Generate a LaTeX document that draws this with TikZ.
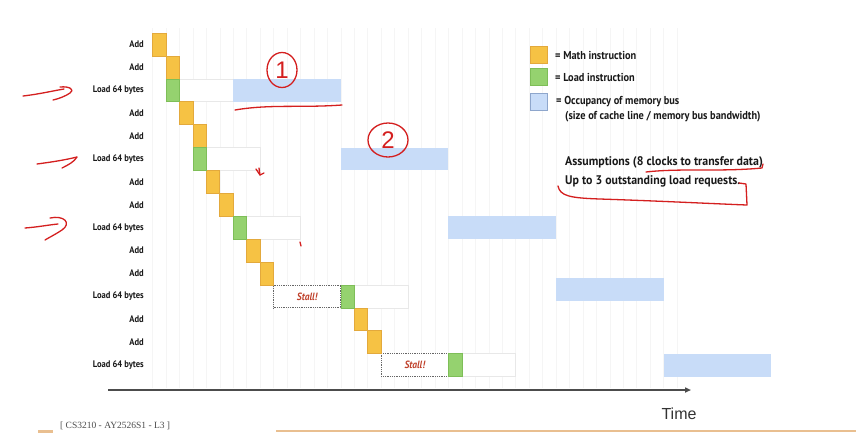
\documentclass[tikz,border=0pt]{standalone}
\usepackage{fontspec}
\setmainfont{Liberation Serif}
\newfontfamily\cond{PT Sans}[FakeStretch=0.9]
\newfontfamily\condw{PT Sans}[FakeStretch=0.95]
\newfontfamily\arial{Liberation Sans}
\usetikzlibrary{arrows.meta,shapes.geometric}
\definecolor{mathY}{HTML}{F6C244}
\definecolor{mathB}{HTML}{E3A93C}
\definecolor{loadG}{HTML}{95D26F}
\definecolor{loadB}{HTML}{7EBE58}
\definecolor{busB}{HTML}{C8DCF8}
\definecolor{busE}{HTML}{8EA6CC}
\definecolor{stallR}{HTML}{C0412B}
\definecolor{inkR}{HTML}{D41F1F}
\definecolor{footO}{HTML}{E9BF90}
\tikzset{
 base/.style={inner sep=0pt, outer sep=0pt},
 mathbox/.style={base, fill=mathY, draw=mathB, line width=0.6pt},
 loadbox/.style={base, fill=loadG, draw=loadB, line width=0.6pt},
 busbox/.style={base, fill=busB},
 waitbox/.style={base, draw=black!9, line width=0.6pt, fill=white},
 stallbox/.style={base, draw=black!60, densely dotted, line width=0.8pt, fill=white,
   font=\cond\bfseries\itshape\fontsize{10.5}{12}\selectfont, text=stallR},
 lbl/.style={anchor=east, inner sep=0pt, font=\cond\bfseries\fontsize{9.5}{11}\selectfont, text=black!90},
 legtxt/.style={anchor=west, inner sep=0pt, font=\cond\bfseries\fontsize{11.5}{13}\selectfont, text=black!90},
 asstxt/.style={anchor=west, inner sep=0pt, font=\condw\bfseries\fontsize{12.5}{14}\selectfont, text=black!90},
 gridln/.style={draw=black!4, line width=0.5pt},
 axisln/.style={draw=black!70, line width=1.6pt, -{Triangle[length=6pt,width=5pt]}},
 ink/.style={draw=inkR, line width=1.3pt, line cap=round, line join=round},
 circ/.style={ellipse, draw=inkR, line width=1.3pt, inner sep=0pt, text=inkR,
   font=\arial\fontsize{24}{24}\selectfont},
}
\newcommand\cell[5]{%
  \pgfmathsetmacro\cw{#5*13.45}%
  \node[#1,anchor=north west,minimum width=\cw pt,minimum height=22.9pt] (#2) at ({152.5+13.45*#3},{33+22.9*#4}) {};}
\newcommand\stallcell[5]{%
  \pgfmathsetmacro\cw{#5*13.45}%
  \node[stallbox,anchor=north west,minimum width=\cw pt,minimum height=22.9pt] (#1) at ({152.5+13.45*#2},{33+22.9*#3}) {#4};}
\begin{document}
\begin{tikzpicture}[x=1pt,y=-1pt]
\useasboundingbox (0,0) rectangle (856,432);
\fill[white] (0,0) rectangle (856,432);
% grid
\foreach \c in {0,...,39} \draw[gridln] ({152.5+13.45*\c},28) -- ({152.5+13.45*\c},388);
% row labels
\foreach \r/\t in {0/Add,1/Add,2/Load 64 bytes,3/Add,4/Add,5/Load 64 bytes,6/Add,7/Add,8/Load 64 bytes,9/Add,10/Add,11/Load 64 bytes,12/Add,13/Add,14/Load 64 bytes}
  \node[lbl] (lab\r) at (144,{33+22.9*\r+11.45}) {\t};
% waiting boxes
\cell{waitbox}{w2}{2}{2}{4}
\cell{waitbox}{w5}{4}{5}{4}
\cell{waitbox}{w8}{7}{8}{4}
\cell{waitbox}{w11}{15}{11}{4}
\cell{waitbox}{w14}{23}{14}{4}
% stalls
\stallcell{s11}{9}{11}{Stall!}{5}
\stallcell{s14}{17}{14}{Stall!}{5}
% math
\cell{mathbox}{m0}{0}{0}{1}
\cell{mathbox}{m1}{1}{1}{1}
\cell{mathbox}{m3}{2}{3}{1}
\cell{mathbox}{m4}{3}{4}{1}
\cell{mathbox}{m6}{4}{6}{1}
\cell{mathbox}{m7}{5}{7}{1}
\cell{mathbox}{m9}{7}{9}{1}
\cell{mathbox}{m10}{8}{10}{1}
\cell{mathbox}{m12}{15}{12}{1}
\cell{mathbox}{m13}{16}{13}{1}
% loads
\cell{loadbox}{g2}{1}{2}{1}
\cell{loadbox}{g5}{3}{5}{1}
\cell{loadbox}{g8}{6}{8}{1}
\cell{loadbox}{g11}{14}{11}{1}
\cell{loadbox}{g14}{22}{14}{1}
% bus occupancy
\cell{busbox}{b1}{6}{2}{8}
\cell{busbox}{b2}{14}{5}{8}
\cell{busbox}{b3}{22}{8}{8}
\cell{busbox}{b4}{30}{10.7}{8}
\cell{busbox}{b5}{38}{14}{8}
% legend
\node[mathbox, minimum size=17pt, anchor=north west] (lm) at (530,46) {};
\node[legtxt] (lmt) at (555,55) {= Math instruction};
\node[loadbox, minimum size=17pt, anchor=north west] (lg) at (530,68) {};
\node[legtxt] (lgt) at (555,77) {= Load instruction};
\node[busbox, draw=busE, line width=0.6pt, minimum size=17pt, anchor=north west] (lb) at (530,93) {};
\node[legtxt] (lbt) at (556,102) {= Occupancy of memory bus};
\node[legtxt] (lbt2) at (565,117) {(size of cache line / memory bus bandwidth)};
% assumptions
\node[asstxt] (as1) at (565,162) {Assumptions (8 clocks to transfer data)};
\node[asstxt] (as2) at (565,181) {Up to 3 outstanding load requests.};
% time axis
\coordinate (t0) at (108,390);
\coordinate (t1) at (691,390);
\draw[axisln] (t0) -- (t1);
\node[inner sep=0pt, font=\arial\fontsize{16}{16}\selectfont, text=black!80] (time) at (679,414) {Time};
% footer
\fill[footO] (38,429.5) rectangle (53,433);
\draw[footO, line width=2pt] (276,431) -- (856,431);
\node[anchor=base west, inner sep=0pt, font=\fontsize{9.5}{11}\selectfont, text=black!70] (foot) at (60,428.5) {[ CS3210 - AY2526S1 - L3 ]};
% red handwriting
\draw[ink] (23,96) .. controls (40,94) and (52,91) .. (64,89);
\draw[ink] (60,87) .. controls (70,86) and (75,90) .. (70,93) .. controls (66,96) and (58,99) .. (53,100);
\draw[ink] (37,164) .. controls (52,162) and (65,160) .. (77,157);
\draw[ink] (77,157) .. controls (74,162) and (68,165) .. (62,168);
\draw[ink] (25,228) .. controls (38,227) and (48,225) .. (58,224);
\draw[ink] (50,218) .. controls (64,215) and (72,223) .. (62,230) .. controls (56,234) and (50,237) .. (45,240);
\node[circ, minimum width=30pt, minimum height=35pt] (one) at (282,70) {1};
\node[circ, minimum width=40pt, minimum height=34pt] (two) at (388,140) {2};
\draw[ink] (235,110) .. controls (270,104) and (300,108) .. (342,105);
\draw[ink] (256,169) -- (260,175) -- (264,173);
\draw[ink] (259,168) -- (260,175);
\draw[ink] (300,242) -- (301,246);
\draw[ink] (646,172) .. controls (680,168) and (720,172) .. (762,168) -- (763,164);
\draw[ink] (558,186) .. controls (560,196) and (570,198) .. (600,199) .. controls (660,201) and (720,204) .. (747,205) -- (746,184) -- (739,183);
\end{tikzpicture}
\end{document}
